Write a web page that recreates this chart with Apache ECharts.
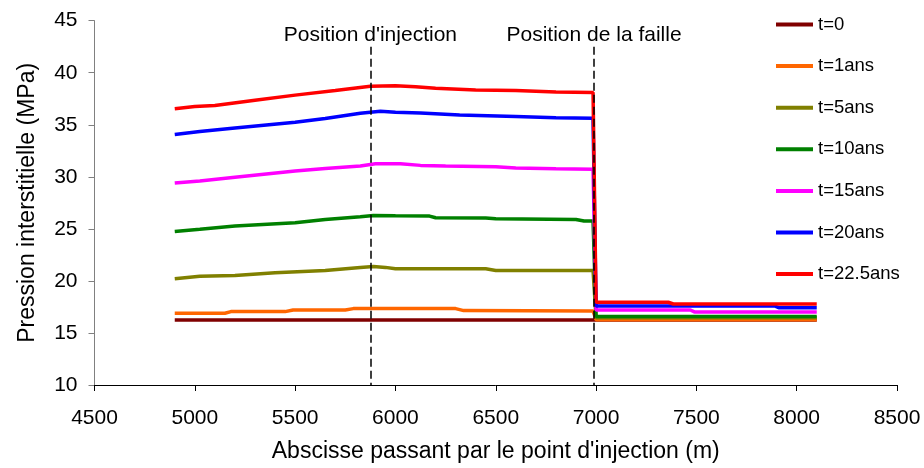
<!DOCTYPE html>
<html>
<head>
<meta charset="utf-8">
<script src="https://cdn.jsdelivr.net/npm/echarts@6/dist/echarts.min.js"></script>
<style>
  html, body { margin: 0; padding: 0; background: #fff; }
  #chart { width: 924px; height: 468px; }
</style>
</head>
<body>
<div id="chart"></div>
<script>
// Pore pressure profiles along the line through the injection point, [abscissa (m), pressure (MPa)]
const seriesNames = ['t=0', 't=1ans', 't=5ans', 't=10ans', 't=15ans', 't=20ans', 't=22.5ans'];
const seriesColors = ['#800000', '#FF6600', '#808000', '#008000', '#FF00FF', '#0000FF', '#FF0000'];

const p_t0 = [[4900, 16.25], [6985, 16.25], [7000, 16.25], [8100, 16.25]];
const p_t1 = [[4900, 16.89], [5150, 16.89], [5180, 17.05], [5450, 17.05], [5490, 17.21], [5750, 17.21],
  [5790, 17.34], [6300, 17.34], [6340, 17.15], [6985, 17.12], [7000, 16.28], [8100, 16.28]];
const p_t5 = [[4900, 20.2], [5025, 20.44], [5200, 20.53], [5400, 20.78], [5650, 21.0], [5825, 21.3],
  [5890, 21.39], [5950, 21.3], [6000, 21.16], [6450, 21.16], [6500, 21.01], [6985, 21.01],
  [7000, 16.45], [8100, 16.45]];
const p_t10 = [[4900, 24.74], [5025, 24.96], [5200, 25.28], [5500, 25.59], [5650, 25.9], [5825, 26.16],
  [5890, 26.29], [6000, 26.25], [6170, 26.23], [6200, 26.07], [6450, 26.05], [6500, 25.97],
  [6900, 25.9], [6940, 25.75], [6985, 25.75], [7000, 16.58], [8100, 16.58]];
const p_t15 = [[4900, 29.4], [5025, 29.6], [5200, 29.95], [5500, 30.55], [5650, 30.8], [5825, 31.05],
  [5900, 31.25], [6025, 31.25], [6125, 31.1], [6250, 31.03], [6500, 30.97], [6600, 30.85],
  [6800, 30.78], [6985, 30.72], [7000, 17.21], [7470, 17.21], [7490, 17.02], [8100, 17.02]];
const p_t20 = [[4900, 34.07], [5025, 34.35], [5200, 34.7], [5500, 35.25], [5650, 35.6], [5825, 36.1],
  [5925, 36.3], [6000, 36.2], [6125, 36.13], [6320, 35.95], [6600, 35.8], [6800, 35.68],
  [6985, 35.62], [7000, 17.59], [7890, 17.59], [7910, 17.43], [8100, 17.43]];
const p_t22_5 = [[4900, 36.55], [5000, 36.75], [5100, 36.85], [5300, 37.35], [5500, 37.85], [5700, 38.3],
  [5875, 38.7], [6000, 38.75], [6100, 38.65], [6200, 38.5], [6400, 38.35], [6600, 38.3],
  [6800, 38.15], [6985, 38.1], [7000, 17.95], [7360, 17.95], [7385, 17.78], [8100, 17.78]];

const profiles = [p_t0, p_t1, p_t5, p_t10, p_t15, p_t20, p_t22_5];

// Vertical reference lines: injection point and fault
const injectionX = 5875;
const faultX = 6990;
const refTop = 42.5;
const refBottom = 10;

const xTicks = { min: 4500, max: 8500, interval: 500 };
const yTicks = { min: 10, max: 45, interval: 5 };

const FONT = '"Liberation Sans", Arial, sans-serif';

const series = profiles.map((data, i) => ({
  name: seriesNames[i],
  type: 'line',
  data: data,
  symbol: 'none',
  showSymbol: false,
  lineStyle: { color: seriesColors[i], width: 3.5 },
  itemStyle: { color: seriesColors[i] },
  emphasis: { disabled: true },
  animation: false
}));

// Dashed markers drawn on top of the last series
series[series.length - 1].markLine = {
  silent: true,
  symbol: 'none',
  z: 20,
  lineStyle: { color: '#000', width: 1.5, type: [8, 4] },
  label: {
    show: true,
    position: 'start',
    distance: 1,
    formatter: p => p.name,
    color: '#000',
    fontFamily: FONT,
    fontSize: 21
  },
  data: [
    [{ coord: [injectionX, refTop], name: "Position d'injection" }, { coord: [injectionX, refBottom] }],
    [{ coord: [faultX, refTop], name: 'Position de la faille' }, { coord: [faultX, refBottom] }]
  ],
  animation: false
};

const chart = echarts.init(document.getElementById('chart'), null, { renderer: 'canvas' });
chart.setOption({
  animation: false,
  backgroundColor: '#fff',
  grid: { left: 94.5, right: 27, top: 20.7, bottom: 78.7, containLabel: false },
  legend: {
    orient: 'vertical',
    left: 771,
    top: 9.5,
    itemWidth: 37,
    itemHeight: 4,
    itemGap: 21.6,
    itemTextGap: 4,
    icon: 'rect',
    data: seriesNames,
    textStyle: { color: '#000', fontFamily: FONT, fontSize: 18.5, lineHeight: 20 }
  },
  xAxis: {
    type: 'value',
    min: xTicks.min,
    max: xTicks.max,
    interval: xTicks.interval,
    name: "Abscisse passant par le point d'injection (m)",
    nameLocation: 'middle',
    nameGap: 55,
    nameTextStyle: { color: '#000', fontFamily: FONT, fontSize: 23 },
    axisLine: { show: true, lineStyle: { color: '#000', width: 1 } },
    axisTick: { show: true, length: 6, lineStyle: { color: '#000' } },
    axisLabel: { color: '#000', fontFamily: FONT, fontSize: 21, margin: 23, formatter: v => String(v) },
    splitLine: { show: false }
  },
  yAxis: {
    type: 'value',
    min: yTicks.min,
    max: yTicks.max,
    interval: yTicks.interval,
    name: 'Pression interstitielle (MPa)',
    nameLocation: 'middle',
    nameGap: 55,
    nameRotate: 90,
    nameTextStyle: { color: '#000', fontFamily: FONT, fontSize: 23 },
    axisLine: { show: true, lineStyle: { color: '#808080', width: 1 } },
    axisTick: { show: true, length: 6, lineStyle: { color: '#808080' } },
    axisLabel: { color: '#000', fontFamily: FONT, fontSize: 21, margin: 17 },
    splitLine: { show: false }
  },
  series: series
});
</script>
</body>
</html>
